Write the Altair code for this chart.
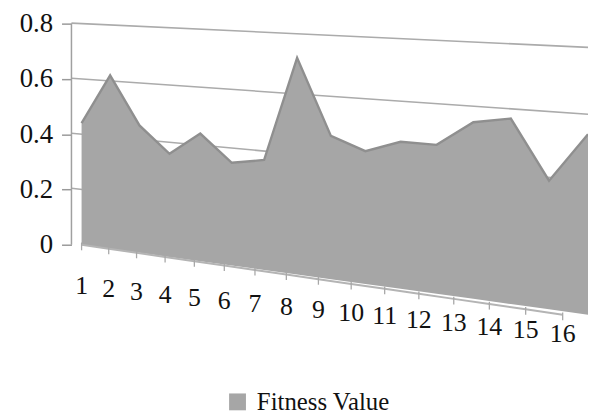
import altair as alt
import pandas as pd

# ---- data ----
categories = list(range(1, 17))
fitness = [0.44, 0.62, 0.45, 0.36, 0.44, 0.35, 0.37, 0.72,
           0.47, 0.43, 0.47, 0.47, 0.55, 0.57, 0.39, 0.54]
y_ticks = [0, 0.2, 0.4, 0.6, 0.8]
grid_levels = [0.2, 0.4, 0.6, 0.8]
series_name = "Fitness Value"

# ---- perspective (pseudo-3D) parameters ----
BEND = 0.011      # horizontal foreshortening
DROP = 0.253      # baseline drop from left to right (value units)
GROW = 0.209      # vertical stretch from left to right
LABEL_SHRINK = 0.95
X_MIN, X_MAX = 0.70, 16.0
Y_MIN, Y_MAX = -0.398, 0.8215

FONT = "Liberation Serif"
FILL = "#a6a6a6"

df = pd.DataFrame({"cat": categories, "v": fitness, "series": series_name})
grid = pd.DataFrame([{"level": g, "x": xx} for g in grid_levels for xx in (X_MIN, X_MAX)])
wall = pd.DataFrame({"x": [X_MIN], "lo": [y_ticks[0]], "hi": [y_ticks[-1]]})

xscale = alt.Scale(domain=[X_MIN, X_MAX], nice=False, zero=False)
yscale = alt.Scale(domain=[Y_MIN, Y_MAX], nice=False, zero=False)
yaxis = alt.Axis(values=y_ticks, title=None, grid=False, domain=False,
                 tickSize=10, tickColor="#9a9a9a", tickWidth=1.5,
                 labelPadding=9, labelFont=FONT, labelFontSize=27,
                 labelColor="#111111",
                 labelExpr="datum.value == 0 ? '0' : format(datum.value, '.1f')")

def X(field):
    return alt.X(field, type="quantitative", scale=xscale, axis=None)

def Y(field):
    return alt.Y(field, type="quantitative", scale=yscale, axis=yaxis)

base = alt.Chart(df).transform_calculate(
    xs=f"datum.cat + {BEND}*(datum.cat-1)*(datum.cat-16)"
).transform_calculate(
    t="(datum.xs-1)/15"
).transform_calculate(
    ys=f"-{DROP}*datum.t + datum.v*(1+{GROW}*datum.t)",
    yb=f"-{DROP}*datum.t",
    lx=f"1 + {LABEL_SHRINK}*(datum.xs-1)",
    ly="-0.151 - 0.172*datum.t",
    tk1=f"-{DROP}*datum.t + 0.008",
    tk2=f"-{DROP}*datum.t - 0.02",
)

gridlines = alt.Chart(grid).transform_calculate(
    t="(datum.x-1)/15"
).transform_calculate(
    gy=f"-{DROP}*datum.t + datum.level*(1+{GROW}*datum.t)"
).mark_line(color="#ababab", strokeWidth=1.6).encode(
    x=X("x"), y=Y("gy"), detail="level:N"
)

wall_rule = alt.Chart(wall).mark_rule(color="#a0a0a0", strokeWidth=1.5).encode(
    x=X("x"), y=Y("lo"), y2="hi"
)

area = base.mark_area(interpolate="linear", opacity=1).encode(
    x=X("xs"), y=Y("ys"), y2="yb",
    color=alt.Color("series:N", scale=alt.Scale(range=[FILL]),
                    legend=alt.Legend(orient="none", legendX=155, legendY=375,
                                      title=None, symbolType="square",
                                      symbolSize=289, symbolStrokeWidth=0,
                                      labelFont=FONT, labelFontSize=25,
                                      labelColor="#111111", labelOffset=7))
)

ridge = base.mark_line(color="#8f8f8f", strokeWidth=2.4).encode(
    x=X("xs"), y=Y("ys")
)

baseline = base.mark_line(color="#b4b4b4", strokeWidth=2).encode(
    x=X("lx"), y=Y("yb")
)

ticks = base.mark_rule(color="#a8a8a8", strokeWidth=1.3).encode(
    x=X("lx"), y=Y("tk1"), y2="tk2"
)

labels = base.mark_text(font=FONT, fontSize=26, color="#111111",
                        align="center", baseline="middle").encode(
    x=X("lx"), y=Y("ly"), text="cat:N"
)

chart = alt.layer(gridlines, wall_rule, area, ridge, baseline, ticks, labels).properties(
    width=521, height=340,
    autosize=alt.AutoSizeParams(type="none"),
    padding={"left": 64, "top": 8, "right": 0, "bottom": 63},
).configure_view(stroke=None)

chart.save("out.html", embed_options={"renderer": "svg", "actions": False})
